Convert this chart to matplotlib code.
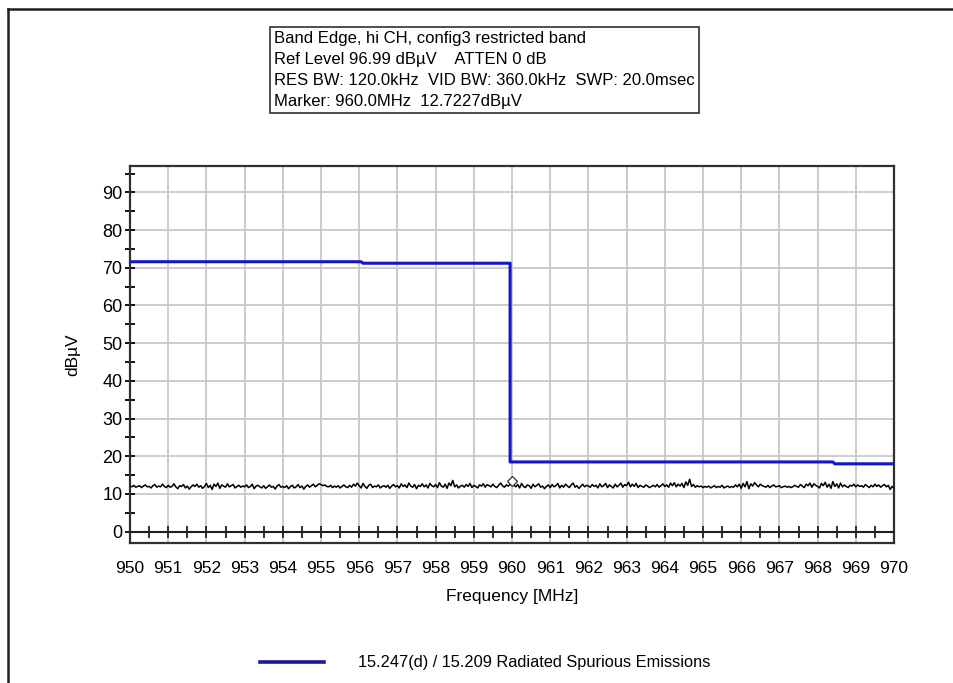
import numpy as np
import matplotlib.pyplot as plt
from matplotlib.lines import Line2D

plt.rcParams['font.family'] = ['Liberation Sans', 'DejaVu Sans']

# limit line (15.247(d) / 15.209)
limit_freq = [950.0, 956.05, 956.1, 959.95, 959.95, 968.4, 968.45, 970.0]
limit_level = [71.6, 71.6, 71.2, 71.2, 18.5, 18.5, 18.0, 18.0]

noise = [
    12.1, 11.9, 12.3, 11.8, 12.0, 12.2, 11.7, 12.1, 12.4, 11.9, 12.0, 11.6, 12.2, 12.5, 11.8, 12.1, 11.9, 12.6, 12.0, 11.7,
    12.3, 11.8, 12.0, 12.7, 11.9, 11.4, 12.2, 12.0, 12.5, 11.6, 12.1, 11.3, 11.9, 12.4, 12.0, 12.6, 11.8, 12.2, 11.5, 12.0,
    12.8, 11.7, 12.3, 11.2, 12.6, 12.0, 12.9, 11.5, 12.4, 12.1, 11.8, 12.7, 11.9, 12.2, 12.5, 11.6, 12.0, 12.3, 11.8, 12.1,
    11.9, 12.4, 11.7, 12.0, 12.6, 11.4, 12.1, 12.3, 11.9, 11.6, 12.2, 11.5, 11.9, 12.4, 11.8, 12.0, 11.3, 12.1, 12.5, 11.8,
    12.0, 11.7, 12.2, 11.4, 12.0, 12.3, 11.6, 11.9, 12.5, 11.7, 12.1, 11.3, 12.0, 12.4, 11.8, 12.2, 12.6, 11.9, 12.3, 12.7,
    12.5, 12.2, 12.4, 12.0, 11.9, 12.3, 11.7, 12.1, 11.8, 12.2, 11.6, 12.0, 12.4, 11.9, 11.7, 12.3, 11.8, 12.6, 12.1, 12.9,
    12.2, 11.6, 12.8, 12.0, 11.5, 12.3, 12.6, 11.7, 12.1, 11.9, 12.4, 11.6, 12.0, 12.2, 11.8, 12.3, 11.5, 12.1, 12.5, 11.9,
    12.2, 11.6, 12.7, 12.0, 12.4, 11.7, 12.9, 12.1, 11.8, 12.5, 11.4, 12.3, 12.0, 12.7, 11.9, 12.4, 11.6, 12.8, 12.2, 11.9,
    12.5, 11.7, 13.0, 12.1, 11.8, 12.6, 11.5, 12.9, 12.2, 13.6, 11.9, 12.4, 11.6, 12.1, 12.3, 11.8, 12.5, 12.0, 12.8, 11.7,
    12.3, 12.0, 11.6, 12.4, 12.1, 12.7, 11.8, 12.5, 12.2, 11.9, 12.6, 12.0, 11.7, 12.3, 12.9, 12.2, 11.8, 12.4, 12.1, 12.5,
    12.72, 12.3, 11.9, 12.5, 11.6, 12.8, 12.0, 11.7, 12.4, 12.2, 11.5, 12.6, 11.9, 12.3, 12.7, 11.8, 12.1, 11.4, 12.0, 12.4,
    11.7, 12.5, 11.9, 12.2, 12.8, 11.6, 12.3, 11.8, 12.6, 12.1, 11.7, 12.4, 12.9, 11.8, 12.2, 11.5, 12.0, 12.6, 11.9, 12.3,
    12.1, 11.8, 12.5, 12.0, 12.3, 11.6, 12.7, 11.9, 12.2, 12.8, 11.7, 12.4, 12.0, 11.6, 12.6, 11.9, 12.3, 12.9, 11.8, 12.5,
    12.2, 13.1, 11.9, 12.6, 12.0, 12.8, 11.7, 12.3, 12.0, 11.8, 12.4, 12.1, 11.7, 12.0, 12.3, 11.9, 12.5, 11.8, 12.2, 12.7,
    12.0, 12.4, 11.8, 12.9, 12.2, 13.0, 11.9, 12.6, 12.1, 12.8, 11.7, 13.2, 12.3, 13.9, 12.0, 12.5, 11.8, 12.2, 11.9, 12.1,
    11.7, 12.0, 11.8, 12.1, 11.6, 11.9, 12.2, 11.7, 12.0, 11.8, 12.3, 11.6, 11.9, 12.1, 11.7, 12.0, 11.8, 12.4, 11.9, 12.6,
    11.5, 12.8, 11.9, 13.3, 11.4, 12.7, 12.1, 13.0, 12.4, 11.9, 12.6, 12.2, 12.0, 11.8, 12.3, 11.7, 12.1, 12.4, 11.9, 12.0,
    12.2, 11.7, 11.9, 12.1, 11.8, 12.0, 11.7, 11.9, 12.3, 12.0, 11.8, 12.5, 12.1, 11.7, 12.6, 12.2, 12.9, 11.8, 12.7, 12.3,
    12.0, 11.6, 12.8, 12.2, 13.1, 11.8, 12.6, 11.5, 13.3, 12.0, 12.7, 11.6, 12.9, 11.9, 12.4, 12.0, 11.7, 12.3, 12.1, 12.6,
    11.9, 12.4, 12.0, 12.2, 11.8, 12.5, 12.1, 11.7, 12.3, 11.9, 12.6, 12.0, 12.4, 11.8, 12.2, 12.5, 11.9, 12.3, 11.2, 12.0,
    11.6,
]
noise_freq = np.linspace(950, 970, len(noise))

marker_freq = 960.0
marker_level = 12.7227

header = ("Band Edge, hi CH, config3 restricted band\n"
          "Ref Level 96.99 dB\u00b5V    ATTEN 0 dB\n"
          "RES BW: 120.0kHz  VID BW: 360.0kHz  SWP: 20.0msec\n"
          "Marker: 960.0MHz  12.7227dB\u00b5V")

fig = plt.figure(figsize=(9.54, 6.83), dpi=100)
ax = fig.add_axes([130 / 954, 1 - 543 / 683, 764 / 954, 377 / 683])

ax.set_xlim(950, 970)
ax.set_ylim(-3, 96.99)
ax.set_xticks(np.arange(950, 971, 1))
ax.set_yticks(np.arange(0, 91, 10))
ax.set_yticks(np.arange(0, 96, 5), minor=True)
ax.grid(True, color='#c8c8c8', linewidth=1.3)
ax.set_axisbelow(True)

for s in ax.spines.values():
    s.set_color('#303030')
    s.set_linewidth(1.6)

ax.tick_params(axis='x', length=0, pad=13, labelsize=12.5)
ax.tick_params(axis='y', which='both', direction='inout', length=7, width=1.3,
               labelsize=13, pad=2)

# zero line with 0.5 MHz ticks
ax.axhline(0, color='#202020', linewidth=1.5, zorder=3)
ticks_x = np.arange(950.5, 970, 0.5)
ax.plot(ticks_x, np.zeros_like(ticks_x), linestyle='none', marker='|',
        markersize=8, markeredgewidth=1.3, color='#202020', zorder=3)

ax.plot(noise_freq, noise, color='black', linewidth=1.1, zorder=4)
ax.plot(limit_freq, limit_level, color='#1515c8', linewidth=2.2, zorder=5,
        label='15.247(d) / 15.209 Radiated Spurious Emissions')
ax.plot(marker_freq, marker_level + 0.6, marker='D', markersize=5,
        markerfacecolor='white', markeredgecolor='#303030', markeredgewidth=0.9, zorder=6)

ax.set_ylabel('dB\u00b5V', fontsize=12.5, labelpad=16)
ax.set_xlabel('Frequency [MHz]', fontsize=12.5, labelpad=9)

fig.text(274 / 954, 1 - 31 / 683, header, fontsize=12, va='top', ha='left',
         linespacing=1.5,
         bbox=dict(boxstyle='square,pad=0.25', facecolor='white', edgecolor='#303030', linewidth=1.2))

handles = [Line2D([], [], color='#1a1a90', linewidth=2.6)]
fig.legend(handles, ['15.247(d) / 15.209 Radiated Spurious Emissions'],
           loc='center', bbox_to_anchor=(485 / 954, 1 - 663 / 683), frameon=False,
           fontsize=11.8, handlelength=3.9, handletextpad=2.1)

# outer frame (left and top edges)
fig.add_artist(Line2D([8.5 / 954, 8.5 / 954], [0, 1 - 9 / 683], color='#202020', linewidth=1.8))
fig.add_artist(Line2D([8.5 / 954, 1], [1 - 9 / 683, 1 - 9 / 683], color='#202020', linewidth=1.8))

fig.savefig('out.png', dpi=100, facecolor='white')
